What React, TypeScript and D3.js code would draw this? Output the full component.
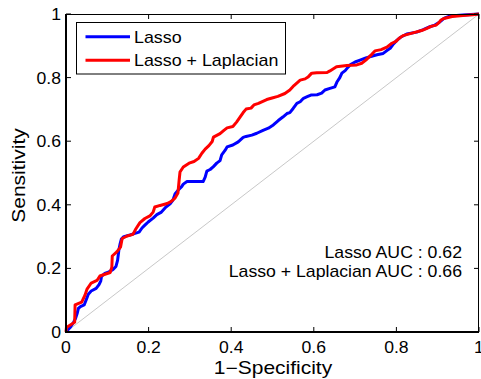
import React from "react";
import * as d3 from "d3";

const lassoFpr = [0, 0.002, 0.011, 0.018, 0.023, 0.027, 0.030, 0.035, 0.044, 0.050, 0.054, 0.061, 0.073, 0.080, 0.084, 0.086, 0.094, 0.104, 0.114, 0.121, 0.125, 0.128, 0.131, 0.134, 0.140, 0.155, 0.167, 0.177, 0.184, 0.191, 0.199, 0.211, 0.220, 0.230, 0.242, 0.252, 0.259, 0.264, 0.272, 0.280, 0.284, 0.293, 0.332, 0.337, 0.341, 0.349, 0.357, 0.365, 0.373, 0.377, 0.385, 0.390, 0.404, 0.417, 0.429, 0.436, 0.450, 0.462, 0.477, 0.490, 0.502, 0.514, 0.525, 0.535, 0.542, 0.550, 0.559, 0.567, 0.575, 0.584, 0.593, 0.608, 0.619, 0.627, 0.639, 0.651, 0.656, 0.663, 0.668, 0.676, 0.683, 0.689, 0.700, 0.712, 0.726, 0.740, 0.753, 0.768, 0.777, 0.785, 0.793, 0.801, 0.809, 0.825, 0.849, 0.865, 0.881, 0.893, 0.903, 0.909, 0.915, 0.930, 0.961, 1];
const lassoTpr = [0, 0.003, 0.016, 0.030, 0.042, 0.058, 0.074, 0.080, 0.085, 0.105, 0.119, 0.129, 0.137, 0.149, 0.160, 0.175, 0.184, 0.189, 0.197, 0.206, 0.226, 0.258, 0.277, 0.292, 0.300, 0.305, 0.310, 0.314, 0.327, 0.336, 0.346, 0.358, 0.369, 0.376, 0.393, 0.403, 0.415, 0.434, 0.447, 0.457, 0.465, 0.473, 0.473, 0.487, 0.506, 0.511, 0.520, 0.531, 0.539, 0.557, 0.571, 0.582, 0.588, 0.598, 0.612, 0.615, 0.619, 0.625, 0.634, 0.641, 0.651, 0.665, 0.676, 0.687, 0.690, 0.703, 0.719, 0.724, 0.735, 0.740, 0.745, 0.746, 0.751, 0.761, 0.766, 0.771, 0.786, 0.800, 0.814, 0.822, 0.833, 0.841, 0.849, 0.855, 0.862, 0.867, 0.872, 0.876, 0.885, 0.892, 0.906, 0.917, 0.926, 0.937, 0.943, 0.951, 0.960, 0.965, 0.973, 0.979, 0.986, 0.994, 0.997, 1];

const lapFpr = [0, 0.001, 0.018, 0.021, 0.022, 0.038, 0.046, 0.051, 0.061, 0.075, 0.082, 0.107, 0.111, 0.112, 0.123, 0.132, 0.136, 0.148, 0.162, 0.169, 0.179, 0.191, 0.203, 0.211, 0.215, 0.228, 0.245, 0.254, 0.264, 0.271, 0.274, 0.276, 0.284, 0.298, 0.310, 0.321, 0.329, 0.337, 0.346, 0.354, 0.357, 0.373, 0.383, 0.390, 0.404, 0.413, 0.421, 0.429, 0.436, 0.448, 0.455, 0.466, 0.486, 0.499, 0.513, 0.530, 0.542, 0.552, 0.567, 0.579, 0.587, 0.595, 0.607, 0.632, 0.639, 0.655, 0.680, 0.704, 0.716, 0.726, 0.734, 0.741, 0.748, 0.763, 0.777, 0.789, 0.799, 0.806, 0.816, 0.838, 0.861, 0.874, 0.884, 0.896, 0.903, 0.908, 0.915, 0.935, 0.961, 0.985, 1];
const lapTpr = [0, 0.014, 0.028, 0.031, 0.085, 0.094, 0.116, 0.135, 0.154, 0.162, 0.176, 0.187, 0.204, 0.239, 0.252, 0.267, 0.294, 0.302, 0.307, 0.324, 0.344, 0.357, 0.365, 0.377, 0.393, 0.398, 0.404, 0.410, 0.421, 0.437, 0.478, 0.503, 0.519, 0.531, 0.536, 0.546, 0.562, 0.575, 0.586, 0.599, 0.613, 0.624, 0.635, 0.642, 0.646, 0.660, 0.675, 0.690, 0.701, 0.704, 0.714, 0.719, 0.731, 0.736, 0.741, 0.750, 0.761, 0.775, 0.792, 0.796, 0.803, 0.814, 0.815, 0.816, 0.821, 0.834, 0.838, 0.840, 0.845, 0.855, 0.865, 0.874, 0.884, 0.888, 0.896, 0.908, 0.914, 0.923, 0.932, 0.940, 0.948, 0.955, 0.961, 0.965, 0.973, 0.981, 0.986, 0.992, 0.995, 0.998, 1];

const xTicks = [0, 0.2, 0.4, 0.6, 0.8, 1];
const yTicks = [0, 0.2, 0.4, 0.6, 0.8, 1];
const seriesNames = ["Lasso", "Lasso + Laplacian"];
const seriesColors = ["#0000ff", "#ff0000"];
const aucLabels = ["Lasso AUC : 0.62", "Lasso + Laplacian AUC : 0.66"];
const xLabel = "1\u2212Specificity";
const yLabel = "Sensitivity";

const FONT = "'Liberation Sans', Arial, Helvetica, sans-serif";

function T({ x, y, sx = 1, size, anchor = "start", rotate = 0, children }: any) {
  return (
    <text
      transform={`translate(${x},${y}) rotate(${rotate}) scale(${sx},1)`}
      fontFamily={FONT}
      fontSize={size}
      textAnchor={anchor}
      fill="#000"
    >
      {children}
    </text>
  );
}

export default function App() {
  const W = 481, H = 379;
  const L = 66, R = 479, Tp = 14, B = 332;
  const x = d3.scaleLinear().domain([0, 1]).range([L, R]);
  const y = d3.scaleLinear().domain([0, 1]).range([B, Tp]);
  const line = d3.line<[number, number]>().x((d) => x(d[0])).y((d) => y(d[1]));
  const lasso = lassoFpr.map((v, i) => [v, lassoTpr[i]] as [number, number]);
  const lap = lapFpr.map((v, i) => [v, lapTpr[i]] as [number, number]);
  const tickLen = 5;

  return (
    <svg width={W} height={H} style={{ position: "absolute", left: 0, top: 0, background: "#fff" }}>
      <rect x={0} y={0} width={W} height={H} fill="#fff" />
      <line x1={x(0)} y1={y(0)} x2={x(1)} y2={y(1)} stroke="#c8c8c8" strokeWidth={1} />
      <path d={line(lasso) || ""} fill="none" stroke={seriesColors[0]} strokeWidth={3} strokeLinejoin="round" />
      <path d={line(lap) || ""} fill="none" stroke={seriesColors[1]} strokeWidth={3} strokeLinejoin="round" />
      <line x1={L} y1={Tp + 0.5} x2={R} y2={Tp + 0.5} stroke="#000" strokeWidth={1} />
      <line x1={R - 0.5} y1={Tp} x2={R - 0.5} y2={B} stroke="#000" strokeWidth={1} />
      <line x1={L} y1={B} x2={R} y2={B} stroke="#000" strokeWidth={2} />
      <line x1={L} y1={Tp} x2={L} y2={B + 1} stroke="#000" strokeWidth={2} />
      {xTicks.map((t) => (
        <g key={"xt" + t}>
          <line x1={x(t)} x2={x(t)} y1={B} y2={B - tickLen} stroke="#000" strokeWidth={1} />
          <line x1={x(t)} x2={x(t)} y1={Tp} y2={Tp + tickLen} stroke="#000" strokeWidth={1} />
          <T x={x(t)} y={353} size={16} sx={1.1} anchor="middle">{String(t)}</T>
        </g>
      ))}
      {yTicks.map((t) => (
        <g key={"yt" + t}>
          <line x1={L} x2={L + tickLen} y1={y(t)} y2={y(t)} stroke="#000" strokeWidth={1} />
          <line x1={R} x2={R - tickLen} y1={y(t)} y2={y(t)} stroke="#000" strokeWidth={1} />
          <T x={61} y={y(t) + 6} size={16} sx={1.1} anchor="end">{String(t)}</T>
        </g>
      ))}
      <T x={273} y={374} size={17.5} sx={1.2} anchor="middle">{xLabel}</T>
      <T x={24.5} y={175.5} size={17.5} sx={1.2} anchor="middle" rotate={-90}>{yLabel}</T>
      <rect x={76.5} y={22.5} width={209} height={51.5} fill="#fff" stroke="#000" strokeWidth={1} />
      {seriesNames.map((n, i) => (
        <g key={n}>
          <line x1={85.5} x2={130} y1={36.7 + i * 23.5} y2={36.7 + i * 23.5} stroke={seriesColors[i]} strokeWidth={3} />
          <T x={134} y={42.7 + i * 23.5} size={17} sx={1.05}>{n}</T>
        </g>
      ))}
      {aucLabels.map((s, i) => (
        <T key={s} x={462} y={258 + i * 19} size={17} sx={1.04} anchor="end">{s}</T>
      ))}
    </svg>
  );
}
